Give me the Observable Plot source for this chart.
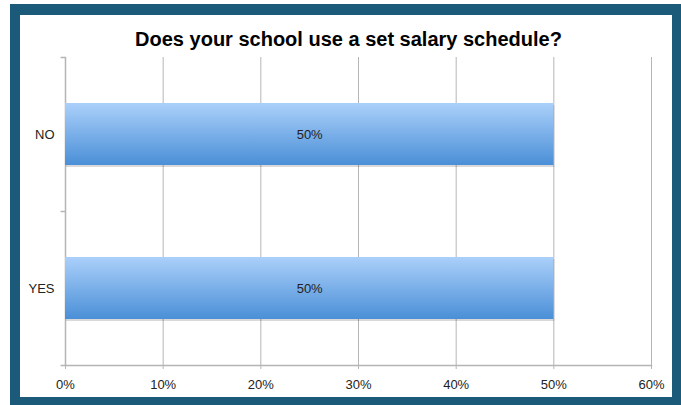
<!DOCTYPE html>
<html>
<head>
<meta charset="utf-8">
<script src="https://cdn.jsdelivr.net/npm/d3@7"></script>
<script src="https://cdn.jsdelivr.net/npm/@observablehq/plot@0.6"></script>
<style>
  html, body { margin: 0; padding: 0; background: #fff; }
  #wrap { position: relative; width: 681px; height: 405px; overflow: hidden; }
  #frame { position: absolute; left: 10px; top: 4px; width: 671px; height: 401px; background: #1b5a79; }
  #inner { position: absolute; left: 20px; top: 15px; width: 652px; height: 382px; background: #fff; }
  #chart { position: absolute; left: 0; top: 0; }
</style>
</head>
<body>
<div id="wrap">
  <div id="frame"></div>
  <div id="inner"></div>
  <div id="chart"></div>
</div>
<script>
const title = "Does your school use a set salary schedule?";
const categories = ["NO", "YES"];
const values = [0.5, 0.5];
const xTicks = [0, 0.1, 0.2, 0.3, 0.4, 0.5, 0.6];
const barLabels = ["50%", "50%"];

const data = categories.map((c, i) => ({category: c, value: values[i], label: barLabels[i]}));

const gridColor = "#b5b5b5";
const step = 154; // band step (px) used only for the boundary tick offsets

const plot = Plot.plot({
  width: 681,
  height: 405,
  marginLeft: 65,
  marginRight: 30,
  marginTop: 57,
  marginBottom: 40,
  style: {
    fontFamily: "'Liberation Sans', Arial, Helvetica, sans-serif",
    fontSize: "13px",
    background: "transparent",
    color: "#222",
    overflow: "visible"
  },
  x: {domain: [0, 0.6], ticks: xTicks, tickFormat: d3.format(".0%"), label: null},
  y: {domain: categories, paddingInner: 0.597, paddingOuter: 0.2985, label: null},
  marks: [
    Plot.gridX(xTicks, {stroke: gridColor, strokeOpacity: 1, strokeWidth: 1}),
    Plot.frame({anchor: "bottom", stroke: gridColor, strokeWidth: 1.5}),
    Plot.frame({anchor: "left", stroke: gridColor, strokeWidth: 1.5}),
    // y-axis boundary ticks (between bands)
    Plot.ruleY(categories, {y: d => d, x1: -0.0045, x2: 0, dy: -step / 2, stroke: gridColor, strokeWidth: 1.5}),
    Plot.ruleY(categories.slice(-1), {y: d => d, x1: -0.0045, x2: 0, dy: step / 2, stroke: gridColor, strokeWidth: 1.5}),
    // bar shadow
    Plot.barX(data, {x: "value", y: "category", dy: 2, dx: 1, fill: "#000", fillOpacity: 0.15}),
    Plot.barX(data, {x: "value", y: "category", fill: "url(#barGrad)"}),
    Plot.text(data, {x: d => d.value / 2, y: "category", text: "label", fill: "#222", fontSize: 13}),
    Plot.axisX(xTicks, {tickSize: 4, tickPadding: 10, stroke: gridColor, tickFormat: d3.format(".0%"), fill: "#222", fontSize: 13, label: null}),
    Plot.axisY({tickSize: 0, tickPadding: 11, fill: "#222", fontSize: 13, label: null}),
    Plot.text([title], {frameAnchor: "top", lineAnchor: "bottom", dy: -12, dx: -10, fontSize: 20, fontWeight: "bold", fill: "#000"})
  ]
});

// gradient definition for the bars
const ns = "http://www.w3.org/2000/svg";
const defs = document.createElementNS(ns, "defs");
const grad = document.createElementNS(ns, "linearGradient");
grad.setAttribute("id", "barGrad");
grad.setAttribute("x1", "0"); grad.setAttribute("y1", "0");
grad.setAttribute("x2", "0"); grad.setAttribute("y2", "1");
[["0%", "#abd0fa"], ["100%", "#4a8fd7"]].forEach(([o, c]) => {
  const s = document.createElementNS(ns, "stop");
  s.setAttribute("offset", o);
  s.setAttribute("stop-color", c);
  grad.appendChild(s);
});
defs.appendChild(grad);
plot.insertBefore(defs, plot.firstChild);

document.getElementById("chart").appendChild(plot);
</script>
</body>
</html>
